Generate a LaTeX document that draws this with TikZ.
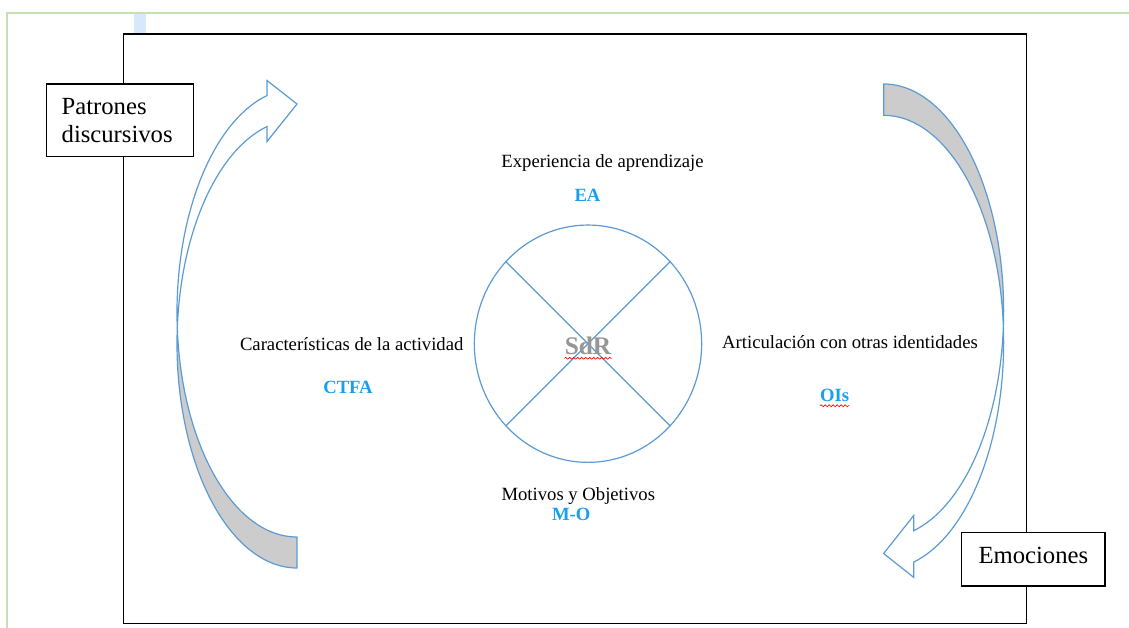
\documentclass[tikz,border=0pt]{standalone}
\usepackage{fontspec}
\setmainfont{Liberation Serif}
\usetikzlibrary{shapes.geometric,decorations.pathmorphing}
\definecolor{arrowblue}{RGB}{91,155,213}
\definecolor{backgray}{RGB}{204,204,204}
\definecolor{codeblue}{RGB}{24,160,240}
\definecolor{framegreen}{RGB}{197,224,180}
\definecolor{tabblue}{RGB}{214,232,250}
\definecolor{sdrgray}{RGB}{150,150,150}
\tikzset{
  lbl/.style={font=\fontsize{14}{16}\selectfont, inner sep=0pt, anchor=base},
  code/.style={font=\fontsize{14}{16}\selectfont\bfseries, text=codeblue, inner sep=0pt, anchor=base},
  boxlbl/.style={draw, line width=0.9pt, fill=white, font=\fontsize{18.5}{20.8}\selectfont, inner xsep=11.25pt, inner ysep=0pt},
  blueline/.style={draw=arrowblue, line width=0.9pt},
  backpart/.style={fill=backgray, draw=arrowblue, line width=0.9pt, line join=round},
  frontpart/.style={fill=white, draw=arrowblue, line width=0.9pt, line join=miter}
}
\begin{document}
\begin{tikzpicture}[x=0.75pt,y=0.75pt]
\useasboundingbox (0,0) rectangle (1129,-628);
\fill[white] (0,0) rectangle (1129,-628);
% page frame
\draw[framegreen, line width=1.5pt] (7,-628) -- (7,-13) -- (1129,-13);
\fill[tabblue] (134,-13.8) rectangle (145.7,-33);
\draw[line width=1pt] (123.7,-34) rectangle (1026.7,-623.3);
% left curved arrow (head at top, pointing right)
\path[backpart] (297,-568)
  arc[start angle=270, end angle=176.04, x radius=120, y radius=224.3]
  arc[start angle=183.96, end angle=270, x radius=120, y radius=224.3] -- cycle;
\path[frontpart] (267,-126.53)
  arc[start angle=104.48, end angle=176.04, x radius=120, y radius=224.3]
  arc[start angle=183.96, end angle=104.48, x radius=120, y radius=224.3]
  -- (267,-80.5) -- (297,-104) -- (267,-141.5) -- cycle;
% right curved arrow (head at bottom, pointing left)
\path[backpart] (883.65,-83.97)
  arc[start angle=90, end angle=-3.96, x radius=120, y radius=227]
  arc[start angle=3.96, end angle=90, x radius=120, y radius=227] -- cycle;
\path[frontpart] (913.65,-530.74)
  arc[start angle=284.48, end angle=356.04, x radius=120, y radius=227]
  arc[start angle=3.96, end angle=-75.52, x radius=120, y radius=227]
  -- (913.65,-577.33) -- (883.65,-553.54) -- (913.65,-515.59) -- cycle;
% central circle
\node[ellipse, blueline, minimum width=170.5pt, minimum height=178pt, inner sep=0pt] (circ) at (588,-343.7) {};
\draw[blueline] (circ.135) -- (circ.315);
\draw[blueline] (circ.45) -- (circ.225);
\node[font=\fontsize{19}{22}\selectfont\bfseries, text=sdrgray, inner sep=0pt, anchor=base] (sdr) at (588,-354.3) {SdR};
\draw[draw=red, line width=0.5pt, decorate, decoration={snake, segment length=3pt, amplitude=0.7pt}] ([yshift=-3pt]sdr.base west) -- ([yshift=-3pt]sdr.base east);
% labels
\node[lbl] (eat) at (602.5,-167) {Experiencia de aprendizaje};
\node[code] (ea) at (587.5,-201.5) {EA};
\node[lbl] (ctfat) at (351.7,-350) {Características de la actividad};
\node[code] (ctfa) at (348,-393.3) {CTFA};
\node[lbl] (oist) at (850,-348.3) {Articulación con otras identidades};
\node[code] (ois) at (834.7,-401.7) {OIs};
\draw[draw=red, line width=0.5pt, decorate, decoration={snake, segment length=3pt, amplitude=0.7pt}] ([yshift=-3pt]ois.base west) -- ([yshift=-3pt]ois.base east);
\node[lbl] (mot) at (578.3,-500) {Motivos y Objetivos};
\node[code] (mo) at (571.3,-520) {M-O};
% boxes
\node[boxlbl, minimum width=110pt, minimum height=54.5pt, text width=87.5pt, align=left] (patrones) at (120,-120.35) {Patrones\\discursivos};
\node[boxlbl, minimum width=107.5pt, minimum height=40.3pt, text height=12.6pt, text depth=6.3pt, align=center] (emo) at (1033.35,-559.15) {Emociones};
\end{tikzpicture}
\end{document}
